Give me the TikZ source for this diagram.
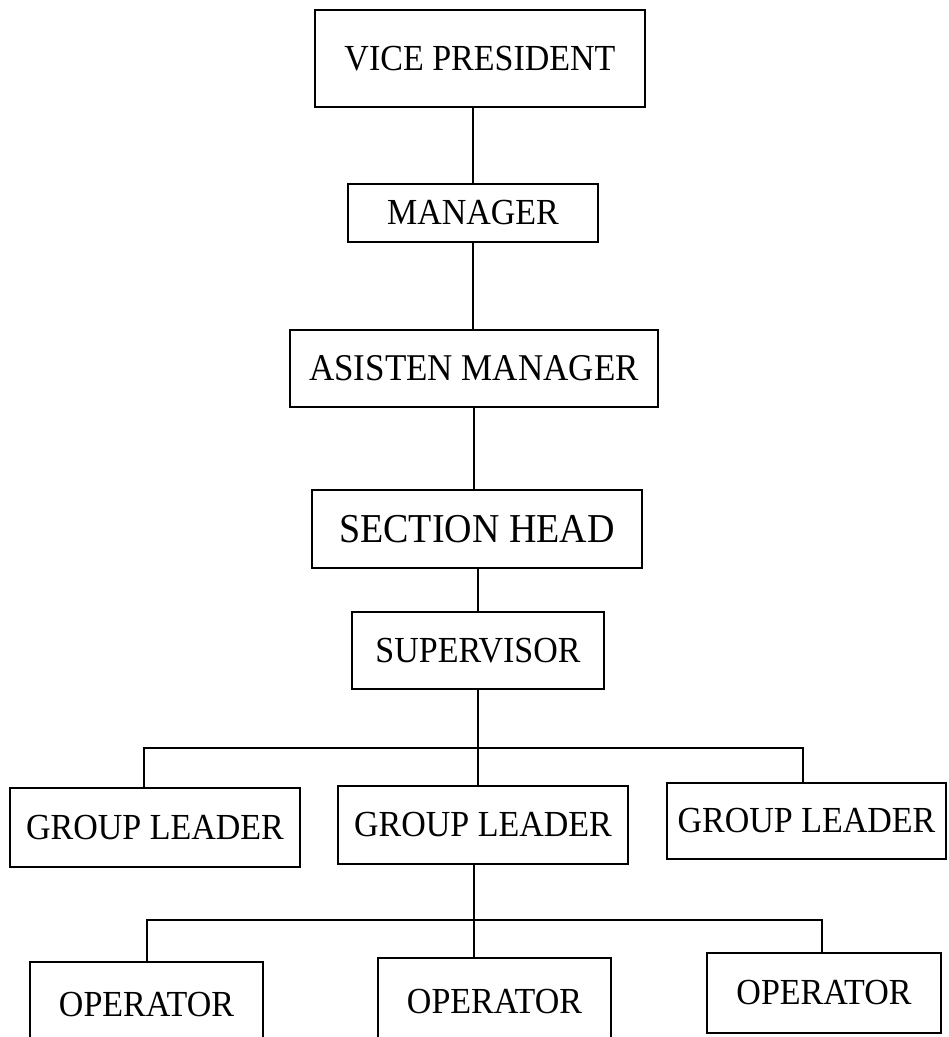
\documentclass[tikz,border=0pt]{standalone}
\usepackage{fontspec}
\usepackage{graphicx}
\setmainfont{Liberation Serif}
% slightly tall lettering for the box titles
\newcommand{\postname}[1]{\scalebox{1}[1.08]{#1}}
\begin{document}
\begin{tikzpicture}[x=1pt,y=-1pt,
  post/.style={draw, rectangle, line width=1.7pt, inner sep=0pt,
               font=\fontsize{34}{40}\selectfont},
  link/.style={line width=1.7pt}]
\clip (0,0) rectangle (949,1037);

% positions
\node[post, minimum width=330, minimum height=97] (vp)   at (480,58.5)  {\postname{VICE PRESIDENT}};
\node[post, minimum width=250, minimum height=58] (mgr)  at (473,213)   {\postname{MANAGER}};
\node[post, minimum width=368, minimum height=77, font=\fontsize{35}{40}\selectfont] (asst) at (474,368.5) {\postname{ASISTEN MANAGER}};
\node[post, minimum width=330, minimum height=78, font=\fontsize{38}{44}\selectfont] (sec)  at (477,529) {\postname{SECTION HEAD}};
\node[post, minimum width=252, minimum height=77] (sup)  at (478,650.5) {\postname{SUPERVISOR}};

\node[post, minimum width=290, minimum height=79] (gl1) at (155,827.5) {\postname{GROUP LEADER}};
\node[post, minimum width=290, minimum height=78] (gl2) at (483,825)   {\postname{GROUP LEADER}};
\node[post, minimum width=279, minimum height=76] (gl3) at (806.5,821) {\postname{GROUP LEADER}};

\node[post, minimum width=233, minimum height=86] (op1) at (146.5,1005) {\postname{OPERATOR}};
\node[post, minimum width=233, minimum height=88] (op2) at (494.5,1002) {\postname{OPERATOR}};
\node[post, minimum width=234, minimum height=80] (op3) at (824,993)    {\postname{OPERATOR}};

% bus lines
\coordinate (busL) at (144,748);
\coordinate (busM) at (478,748);
\coordinate (busR) at (803,748);
\coordinate (opL)  at (147,920);
\coordinate (opM)  at (474,920);
\coordinate (opR)  at (822,920);

% chain of command
\draw[link] (mgr.north |- vp.south) -- (mgr.north);
\draw[link] (mgr.south) -- (mgr.south |- asst.north);
\draw[link] (asst.south) -- (asst.south |- sec.north);
\draw[link] (sup.north |- sec.south) -- (sup.north);

% supervisor to group leaders
\draw[link] (busM |- sup.south) -- (busM |- gl2.north);
\draw[link] (busL |- gl1.north) -- (busL) -- (busR) -- (busR |- gl3.north);

% group leader to operators
\draw[link] (opM |- gl2.south) -- (opM |- op2.north);
\draw[link] (opL |- op1.north) -- (opL) -- (opR) -- (opR |- op3.north);
\end{tikzpicture}
\end{document}
